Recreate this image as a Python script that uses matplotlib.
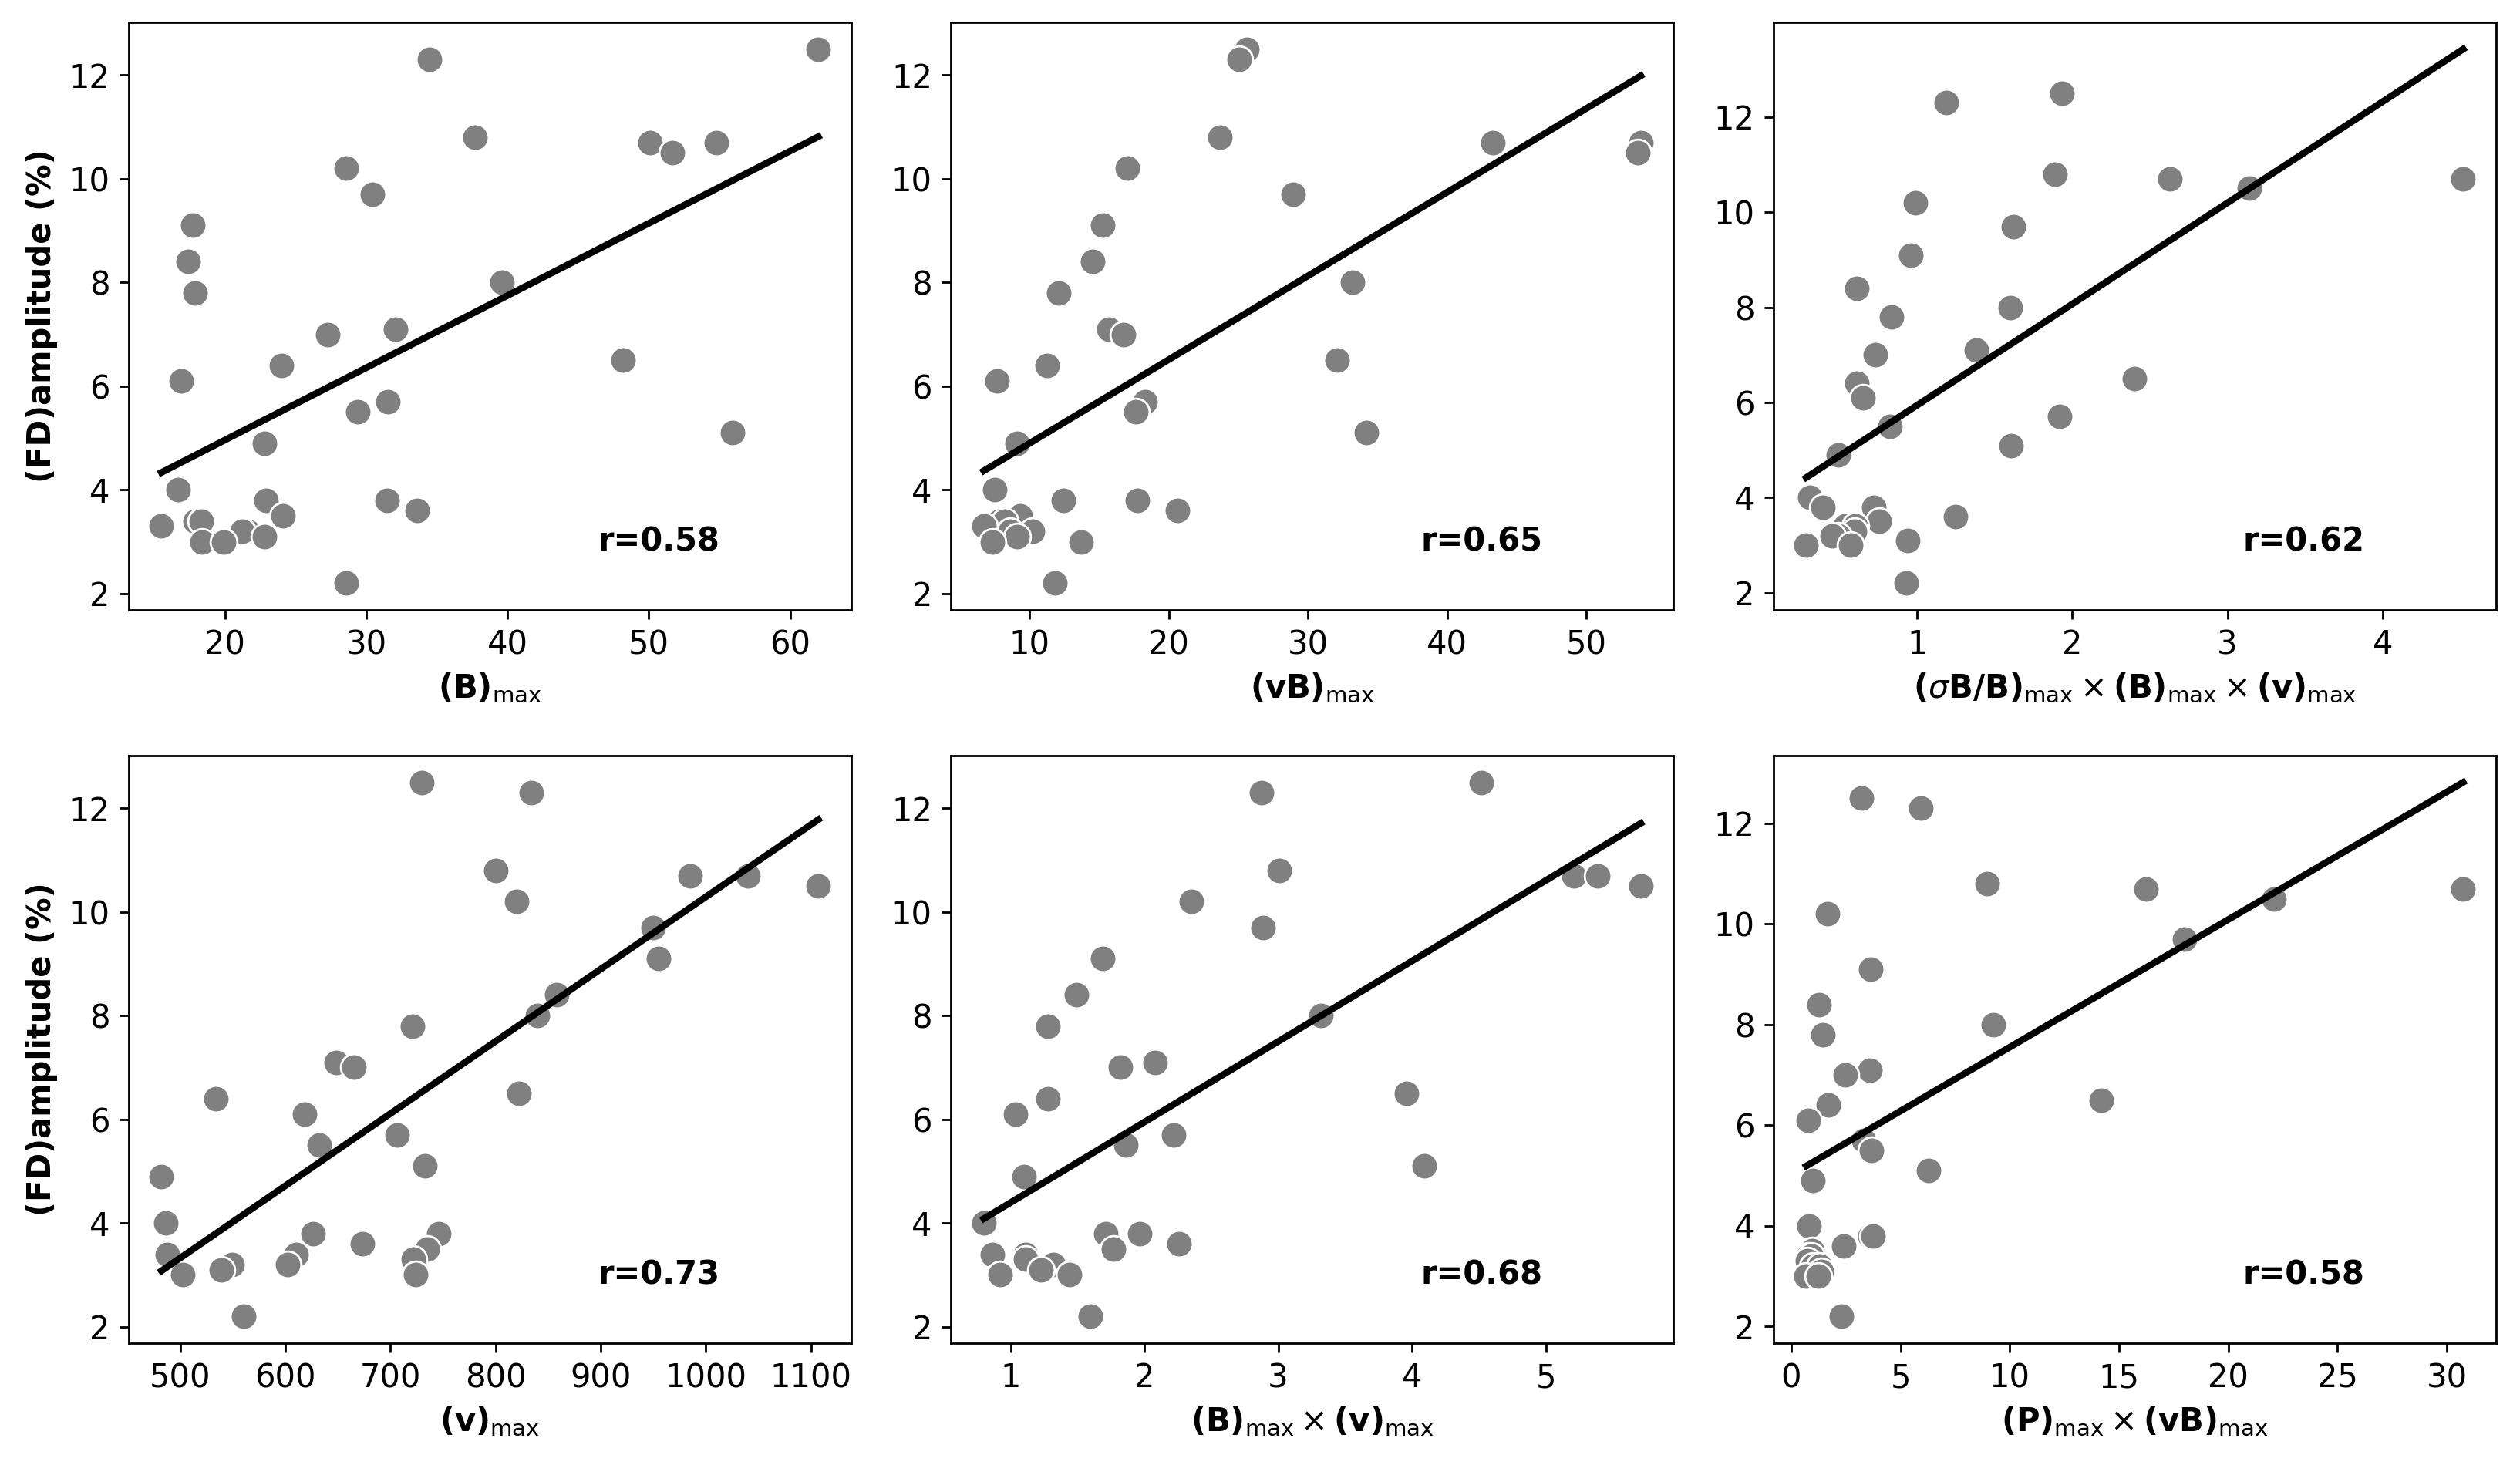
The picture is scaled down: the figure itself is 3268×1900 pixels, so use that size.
"""
Six-panel scatter: FD amplitude against various solar-wind maxima,
each with a least-squares line and the correlation coefficient.
"""

import numpy as np
import matplotlib.pyplot as plt

# FD amplitude (%) for every event, same order in all the x arrays below
FD_AMP = [12.5, 12.3, 10.8, 10.7, 10.7, 10.5, 10.2, 9.7, 9.1, 8.4, 8.0, 7.8,
          7.1, 7.0, 6.5, 6.4, 6.1, 5.7, 5.5, 5.1, 4.9, 4.0, 3.8, 3.8, 3.6,
          3.5, 3.4, 3.4, 3.3, 3.2, 3.2, 3.1, 3.0, 3.0, 2.2]

B_MAX = [62.0, 34.5, 37.7, 50.1, 54.8, 51.65, 28.6, 30.45, 17.7, 17.4, 39.6,
         17.9, 32.1, 27.3, 48.2, 24.0, 16.9, 31.55, 29.4, 55.9, 22.8, 16.7,
         22.9, 31.45, 33.6, 24.1, 17.9, 18.3, 15.5, 21.6, 21.2, 22.8, 18.4,
         19.9, 28.6]

VB_MAX = [25.6, 25.05, 23.66, 43.3, 53.9, 53.7, 17.0, 28.9, 15.25, 14.5, 33.2,
          12.07, 15.7, 16.75, 32.1, 11.25, 7.66, 18.3, 17.6, 34.2, 9.1, 7.46,
          12.44, 17.76, 20.6, 9.3, 7.8, 8.2, 6.7, 10.2, 8.6, 9.1, 7.3, 13.7,
          11.8]

SIGB_B_V = [1.934, 1.186, 1.89, 2.63, 4.52, 3.14, 0.99, 1.62, 0.957, 0.61,
            1.60, 0.833, 1.38, 0.73, 2.40, 0.61, 0.653, 1.92, 0.824, 1.606,
            0.49, 0.31, 0.395, 0.72, 1.25, 0.757, 0.535, 0.60, 0.595, 0.49,
            0.45, 0.94, 0.285, 0.574, 0.927]

V_MAX = [730, 834, 800, 985, 1040, 1107, 820, 950, 955, 858, 840, 721, 648,
         665, 822, 534, 618, 706, 632, 733, 482, 486, 626, 746, 673, 735, 488,
         610, 722, 549, 602, 539, 502, 724, 560]

B_V = [4.52, 2.875, 3.01, 5.21, 5.39, 5.71, 2.35, 2.885, 1.69, 1.49, 3.32,
       1.28, 2.08, 1.82, 3.96, 1.28, 1.04, 2.22, 1.86, 4.09, 1.10, 0.80, 1.71,
       1.965, 2.26, 1.77, 0.866, 1.11, 1.11, 1.30, 1.32, 1.23, 0.92, 1.44,
       1.595]

P_VB = [3.21, 5.93, 8.97, 16.25, 30.75, 22.1, 1.68, 18.0, 3.64, 1.29, 9.25,
        1.47, 3.62, 2.48, 14.18, 1.70, 0.80, 3.34, 3.69, 6.29, 1.01, 0.82, 3.6,
        3.75, 2.41, 0.95, 0.80, 0.92, 0.75, 1.0, 1.3, 1.4, 0.69, 1.23, 2.3]

R_VALUES = [0.58, 0.65, 0.62, 0.73, 0.68, 0.58]

MAXSUB = r"_{\mathrm{max}}"
X_LABELS = [
    r"$\mathbf{(B)}" + MAXSUB + "$",
    r"$\mathbf{(vB)}" + MAXSUB + "$",
    r"$\mathbf{(}\sigma\mathbf{B/B)}" + MAXSUB + r"\times\mathbf{(B)}" + MAXSUB
    + r"\times\mathbf{(v)}" + MAXSUB + "$",
    r"$\mathbf{(v)}" + MAXSUB + "$",
    r"$\mathbf{(B)}" + MAXSUB + r"\times\mathbf{(v)}" + MAXSUB + "$",
    r"$\mathbf{(P)}" + MAXSUB + r"\times\mathbf{(vB)}" + MAXSUB + "$",
]
Y_LABEL = "(FD)amplitude (%)"

plt.rcParams["font.size"] = 12


def draw_panel(ax, x, y, xlabel, r):
    x = np.asarray(x, dtype=float)
    y = np.asarray(y, dtype=float)
    ax.scatter(x, y, s=100, color="grey", edgecolor="white", linewidth=0.8,
               zorder=2)
    slope, icpt = np.polyfit(x, y, 1)
    xs = np.array([x.min(), x.max()])
    ax.plot(xs, slope * xs + icpt, color="black", linewidth=2.5, zorder=3)
    ax.set_xlabel(xlabel)
    ax.text(0.65, 0.1, f"r={r:.2f}", transform=ax.transAxes,
            fontweight="bold", fontsize=12)


fig, axes = plt.subplots(2, 3, figsize=(13.072, 7.6), dpi=250)
fig.subplots_adjust(left=0.051, right=0.9905, bottom=0.0832, top=0.9847,
                    wspace=0.138, hspace=0.248)

xs_all = [B_MAX, VB_MAX, SIGB_B_V, V_MAX, B_V, P_VB]
for ax, xv, lab, r in zip(axes.flat, xs_all, X_LABELS, R_VALUES):
    draw_panel(ax, xv, FD_AMP, lab, r)

for ax in axes[:, 0]:
    ax.set_ylabel(Y_LABEL, fontweight="bold")

fig.savefig("out.png", dpi=250)
